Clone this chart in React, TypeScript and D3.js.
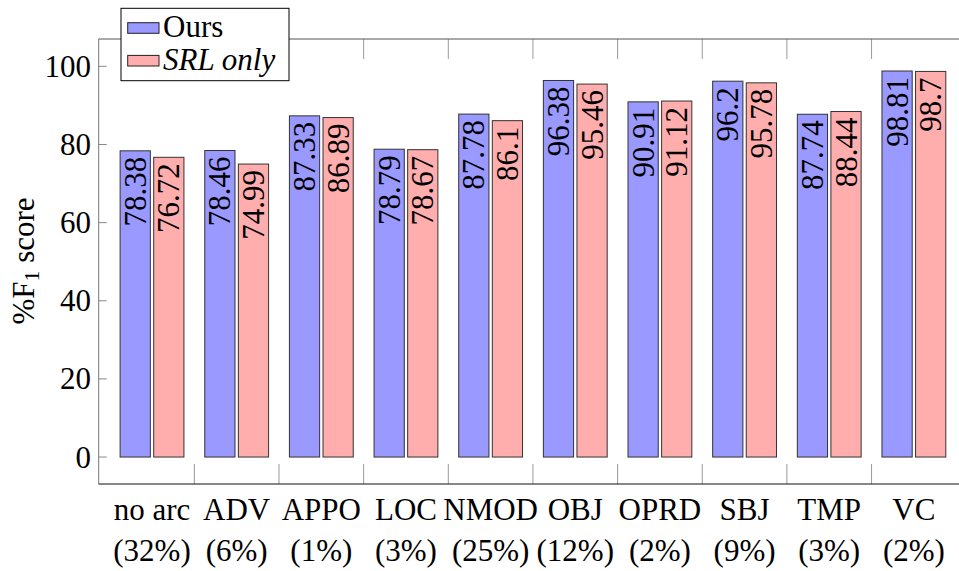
import React, { useEffect, useRef } from "react";
import * as d3 from "d3";

const categories = ["no arc", "ADV", "APPO", "LOC", "NMOD", "OBJ", "OPRD", "SBJ", "TMP", "VC"];
const shares = ["(32%)", "(6%)", "(1%)", "(3%)", "(25%)", "(12%)", "(2%)", "(9%)", "(3%)", "(2%)"];
const oursValues = [78.38, 78.46, 87.33, 78.79, 87.78, 96.38, 90.91, 96.2, 87.74, 98.81];
const srlValues = [76.72, 74.99, 86.89, 78.67, 86.1, 95.46, 91.12, 95.78, 88.44, 98.7];
const seriesNames = ["Ours", "SRL only"];
const yTicks = [0, 20, 40, 60, 80, 100];

const W = 959;
const H = 571;

export default function App() {
  const ref = useRef<SVGSVGElement>(null);

  useEffect(() => {
    if (!ref.current) return;
    const svg = d3.select(ref.current);
    svg.selectAll("*").remove();

    const font = "'Liberation Serif', 'Times New Roman', serif";
    const fs = 31;

    const left = 98.7;
    const top = 39;
    const bottom = 484;
    const right = 968;

    const x0 = d3.scaleBand<string>().domain(categories).range([109.7, 956.2]).padding(0);
    const x1 = d3
      .scaleBand<string>()
      .domain(seriesNames)
      .range([0, x0.bandwidth()])
      .paddingInner(0.1)
      .paddingOuter(0.31);
    const y = d3.scaleLinear().domain([-6.9, 107]).range([bottom, top]);

    const colors: Record<string, string> = { Ours: "#9999ff", "SRL only": "#ffadad" };

    // x ticks between groups, top and bottom
    const bounds = categories.slice(1).map((c) => x0(c)!);
    svg
      .append("g")
      .selectAll("line")
      .data(bounds)
      .join("line")
      .attr("x1", (d) => d)
      .attr("x2", (d) => d)
      .attr("y1", bottom)
      .attr("y2", bottom - 20)
      .attr("stroke", "#999")
      .attr("stroke-width", 1);
    svg
      .append("g")
      .selectAll("line")
      .data(bounds)
      .join("line")
      .attr("x1", (d) => d)
      .attr("x2", (d) => d)
      .attr("y1", top)
      .attr("y2", top + 20)
      .attr("stroke", "#999")
      .attr("stroke-width", 1);

    // y ticks
    const yt = svg.append("g");
    yt.selectAll("line")
      .data(yTicks)
      .join("line")
      .attr("x1", left)
      .attr("x2", left + 8)
      .attr("y1", (d) => y(d))
      .attr("y2", (d) => y(d))
      .attr("stroke", "#888");
    yt.selectAll("text")
      .data(yTicks)
      .join("text")
      .attr("x", 91)
      .attr("y", (d) => y(d))
      .attr("text-anchor", "end")
      .attr("dominant-baseline", "central")
      .attr("font-family", font)
      .attr("font-size", fs)
      .text((d) => d);

    // axis frame
    svg.append("line").attr("x1", left).attr("x2", left).attr("y1", top).attr("y2", bottom).attr("stroke", "#777");
    svg.append("line").attr("x1", left).attr("x2", right).attr("y1", top).attr("y2", top).attr("stroke", "#555");
    svg.append("line").attr("x1", left).attr("x2", right).attr("y1", bottom).attr("y2", bottom).attr("stroke", "#111");

    // bars
    const rows = categories.map((c, i) => ({
      cat: c,
      vals: [
        { key: "Ours", v: oursValues[i] },
        { key: "SRL only", v: srlValues[i] },
      ],
    }));

    const groups = svg
      .append("g")
      .selectAll("g")
      .data(rows)
      .join("g")
      .attr("transform", (d) => `translate(${x0(d.cat)},0)`);

    groups
      .selectAll("rect")
      .data((d) => d.vals)
      .join("rect")
      .attr("x", (d) => x1(d.key)!)
      .attr("width", x1.bandwidth())
      .attr("y", (d) => y(d.v))
      .attr("height", (d) => y(0) - y(d.v))
      .attr("fill", (d) => colors[d.key])
      .attr("stroke", "#333")
      .attr("stroke-width", 1);

    groups
      .selectAll("text")
      .data((d) => d.vals)
      .join("text")
      .attr("transform", (d) => `translate(${x1(d.key)! + x1.bandwidth() / 2},${y(d.v) + 6}) rotate(-90)`)
      .attr("text-anchor", "end")
      .attr("dominant-baseline", "central")
      .attr("font-family", font)
      .attr("font-size", fs)
      .text((d) => String(d.v));

    // x labels
    const xl = svg.append("g");
    xl.selectAll("text.cat")
      .data(categories)
      .join("text")
      .attr("class", "cat")
      .attr("x", (d) => x0(d)! + x0.bandwidth() / 2)
      .attr("y", 520)
      .attr("text-anchor", "middle")
      .attr("font-family", font)
      .attr("font-size", fs)
      .text((d) => d);
    xl.selectAll("text.share")
      .data(shares)
      .join("text")
      .attr("class", "share")
      .attr("x", (_, i) => x0(categories[i])! + x0.bandwidth() / 2)
      .attr("y", 561)
      .attr("text-anchor", "middle")
      .attr("font-family", font)
      .attr("font-size", fs)
      .text((d) => d);

    // y label
    const yl = svg
      .append("text")
      .attr("transform", `translate(34,261) rotate(-90)`)
      .attr("text-anchor", "middle")
      .attr("font-family", font)
      .attr("font-size", fs);
    yl.append("tspan").text("%F");
    yl.append("tspan").attr("font-size", fs * 0.7).attr("dy", 5).text("1");
    yl.append("tspan").attr("dy", -5).text(" score");

    // legend
    const lg = svg.append("g");
    lg.append("rect")
      .attr("x", 121)
      .attr("y", 8.3)
      .attr("width", 168)
      .attr("height", 72.4)
      .attr("fill", "#fff")
      .attr("stroke", "#000")
      .attr("stroke-width", 1);
    const items = lg
      .selectAll("g")
      .data(seriesNames)
      .join("g")
      .attr("transform", (_, i) => `translate(0,${i * 32.7})`);
    items
      .append("rect")
      .attr("x", 127.7)
      .attr("y", 22.7)
      .attr("width", 31.3)
      .attr("height", 10.6)
      .attr("fill", (d) => colors[d])
      .attr("stroke", "#222");
    items
      .append("text")
      .attr("x", 163)
      .attr("y", 37.3)
      .attr("font-family", font)
      .attr("font-size", fs)
      .attr("font-style", (d) => (d === "SRL only" ? "italic" : "normal"))
      .text((d) => d);
  }, []);

  return (
    <svg
      ref={ref}
      width={W}
      height={H}
      style={{ position: "absolute", left: 0, top: 0, background: "#fff", display: "block" }}
    />
  );
}
